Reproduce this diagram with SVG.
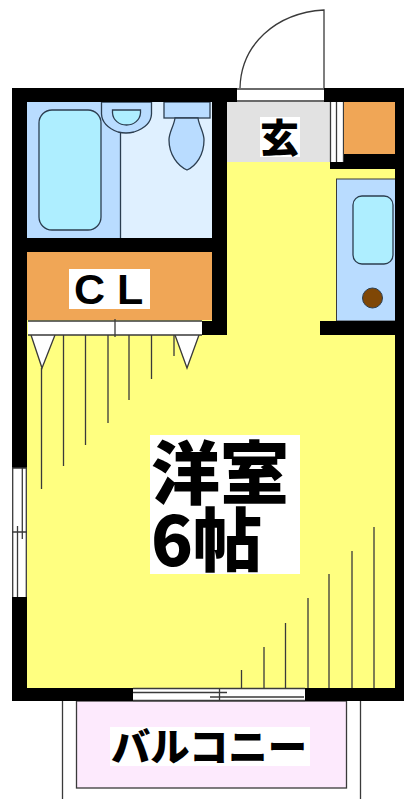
<svg xmlns="http://www.w3.org/2000/svg" width="404" height="799" viewBox="0 0 404 799">
<style>
.wall{fill:#000}
.ln{fill:none;stroke:#3a3a3a;stroke-width:1.3}
.fx{stroke:#2c3e50;stroke-width:1.3}
.lb{fill:#fff}
.t{font-family:"Noto Sans CJK JP","Noto Sans",sans-serif;font-weight:900;fill:#000}
</style>
<rect width="404" height="799" fill="#fff"/>
<g id="balcony">
<path class="ln" d="M62.500 701V799M360.500 701V799"/>
<rect x="76.500" y="701" width="270" height="87" fill="#fdeafd" stroke="#3a3a3a" stroke-width="1.300"/>
<rect class="lb" x="110" y="727" width="200" height="39"/>
<text class="t" x="111" y="761" font-size="39" textLength="196" lengthAdjust="spacingAndGlyphs">バルコニー</text>
</g>
<g id="room">
<rect x="27" y="102" width="369" height="586" fill="#ffff80"/>
<g id="hatching" class="ln">
<path d="M41.500 368V489M63.500 335V466M85.500 335V445M108 335V423M129 335V400M151.500 335V379M174 335V356"/>
<path d="M241.500 670V688M264 647V688M285.500 623V688M308 598V688M329 574V688M352 551V688M374 527V688"/>
<path d="M31 335L42 368L55 335M175 335L187 368L199 335" fill="#fff"/>
</g>
<rect class="lb" x="150" y="435" width="150" height="139"/>
<text class="t" font-size="69"><tspan x="151" y="499">洋室</tspan><tspan x="151" y="566">6帖</tspan></text>
</g>
<g id="bath">
<rect x="27" y="102" width="185" height="136" fill="#dff0ff"/>
<path d="M27 102H120V238H27Z" fill="#b9dcff"/>
<path class="fx" d="M120.500 133V238" fill="none"/>
<rect x="39" y="110" width="62" height="120" rx="13" fill="#aeeeff" class="fx"/>
<path class="fx" d="M101.500 102V114C102 124 110 129 118 132Q126 134 134 132C143 129 151 124 151.500 114V102Z" fill="#b9dcff"/>
<path class="fx" d="M112.500 110H140.500V113C140 120 134 125 126.500 125C119 125 113 120 112.500 113Z" fill="#aeeeff"/>
<rect class="fx" x="164" y="102" width="46" height="16" fill="#b9dcff"/>
<path class="fx" d="M175 118C174 126 169 132 169 140C169 155 178 166 187 170C196 166 204 155 204 140C204 132 199 126 198 118Z" fill="#b9dcff"/>
</g>
<g id="closet">
<rect x="27" y="252" width="185" height="68" fill="#f0a656"/>
<rect class="lb" x="69" y="269" width="81" height="40"/>
<text x="74" y="304" font-family="Liberation Sans,sans-serif" font-weight="700" font-size="43" fill="#000" xml:space="preserve">C L</text>
<rect class="lb" x="28" y="321" width="174" height="14"/>
<path class="ln" d="M28 321H202M28 335H202M115 319V337"/>
</g>
<g id="genkan">
<rect x="227" y="102" width="103" height="60" fill="#e2e2e2"/>
<rect class="lb" x="260" y="117" width="40" height="40"/>
<text class="t" x="260" y="152" font-size="39">玄</text>
<rect class="lb" x="330" y="102" width="14" height="60"/>
<path class="ln" d="M330.500 102V162M336.500 102V162M343.500 102V162"/>
</g>
<g id="storage">
<rect x="344" y="102" width="52" height="52" fill="#f0a656"/>
</g>
<g id="kitchen">
<rect x="336.500" y="179" width="59.500" height="142" fill="#b9dcff" stroke="#3a3a3a" stroke-width="1"/>
<rect class="fx" x="353" y="196" width="40" height="68" rx="9" fill="#aeeeff"/>
<circle cx="372.500" cy="298" r="10" fill="#7f4706" stroke="#2c3e50"/>
</g>
<g id="walls" class="wall">
<path d="M12 88H237V102H12Z"/>
<path d="M324 88H404V102H324Z"/>
<path d="M12 88H27V468H12Z"/>
<path d="M12 597H27V701H12Z"/>
<path d="M395 88H404V701H395Z"/>
<path d="M12 688H133V701H12Z"/>
<path d="M305 688H404V701H305Z"/>
<path d="M212 88H227V335H212Z"/>
<path d="M27 238H212V252H27Z"/>
<path d="M202 321H227V335H202Z"/>
<path d="M344 154H396V169H330V162H344Z"/>
<path d="M320 321H396V335H320Z"/>
</g>
<g id="door">
<rect class="lb" x="237" y="89" width="87" height="13"/>
<path class="ln" d="M240 88C241 45 275 13 324 10V88M237 89H324M237 101H324"/>
</g>
<g id="window-left">
<rect class="lb" x="12" y="468" width="15" height="129"/>
<path class="ln" d="M12.700 468V597M26.300 468V597M12 468H27M17.500 526V597M22.300 468V539M12 532H27"/>
</g>
<g id="window-bottom">
<rect class="lb" x="133" y="688" width="172" height="13"/>
<path class="ln" d="M133 688.500H305M133 700.500H305M133 692.500H227M210 697H304M219.500 688V701"/>
</g>
</svg>
